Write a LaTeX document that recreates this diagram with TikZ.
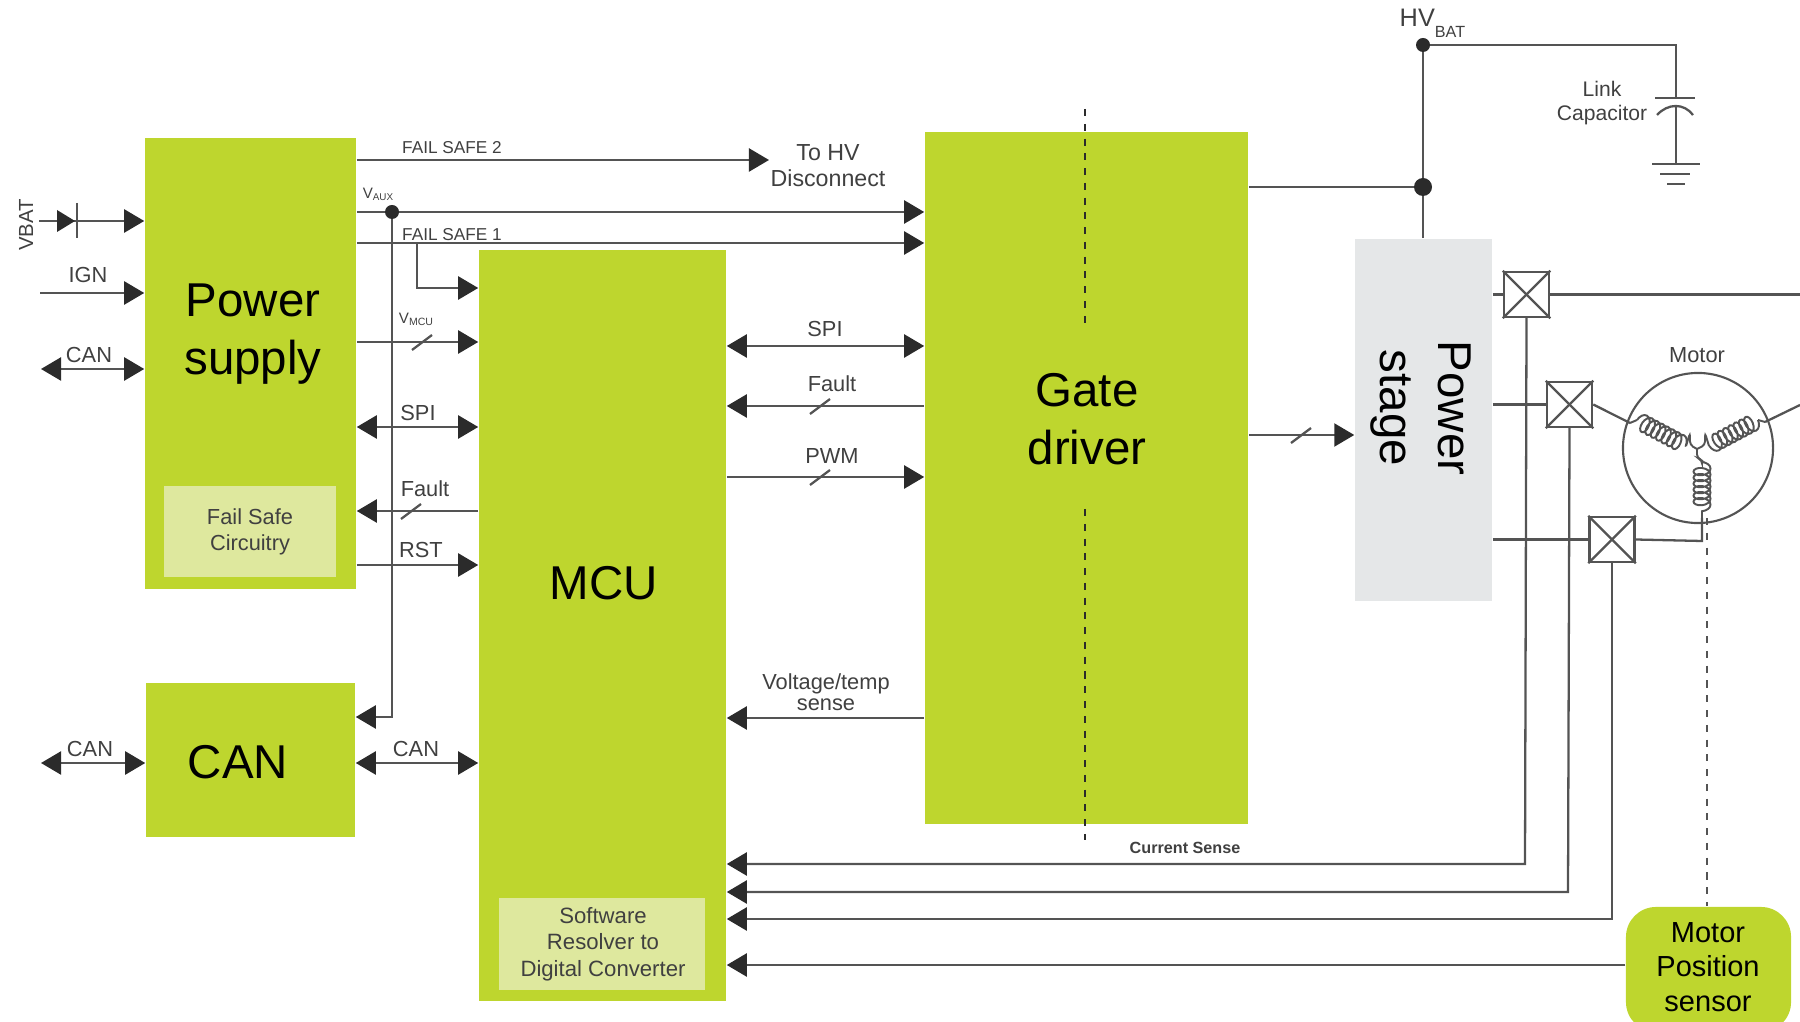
\documentclass[tikz,border=0pt]{standalone}
\usepackage{fontspec}
\setmainfont{Liberation Sans}
\definecolor{blockgreen}{rgb}{0.745, 0.84, 0.18}
\definecolor{palegreen}{rgb}{0.87, 0.91, 0.62}
\definecolor{stagegrey}{rgb}{0.90, 0.906, 0.91}
\definecolor{wiregrey}{rgb}{0.33, 0.33, 0.33}
\definecolor{tipgrey}{rgb}{0.17, 0.17, 0.17}
\definecolor{labelgrey}{rgb}{0.25, 0.25, 0.25}
\usetikzlibrary{arrows.meta}
\usetikzlibrary{decorations.pathmorphing}
\tikzset{
  >={Triangle[length=2mm,width=2.3mm,color=tipgrey]},
  block/.style={fill=blockgreen, inner sep=0pt},
  subblock/.style={fill=palegreen, inner sep=0pt},
  wire/.style={draw=wiregrey, line width=0.65pt},
  blocktext/.style={align=center, font=\fontsize{13.5}{16.5}\selectfont},
  sidetext/.style={align=center, text=labelgrey, font=\fontsize{6.2}{7.6}\selectfont},
  labeltext/.style={align=center, text=labelgrey, inner sep=0pt, font=\fontsize{6.2}{7.6}\selectfont},
  smalltext/.style={text=labelgrey, inner sep=0pt, font=\fontsize{4.9}{6}\selectfont},
  switchbox/.style={draw=wiregrey, fill=white, line width=0.7pt, minimum size=4.5mm, inner sep=0pt},
  coilwire/.style={draw=wiregrey, line width=0.55pt, decorate,
    decoration={coil, aspect=0.6, segment length=0.6mm, amplitude=0.85mm}},
  dotted line/.style={line width=0.8pt, dash pattern=on 2pt off 2.2pt},
}
\begin{document}
\begin{tikzpicture}[x=0.01cm, y=-0.01cm]
  \useasboundingbox (0,0) rectangle (1800,1022);

  % Blocks
  \node[block, minimum width=2.11cm, minimum height=4.51cm] (psu) at (250.5,363.5) {};
  \node[subblock, minimum width=1.72cm, minimum height=0.91cm] (failsafe) at (250,531.5) {};
  \node[block, minimum width=2.09cm, minimum height=1.54cm] (can) at (250.5,760) {};
  \node[block, minimum width=2.47cm, minimum height=7.51cm] (mcu) at (602.5,625.5) {};
  \node[subblock, minimum width=2.06cm, minimum height=0.92cm] (resolver) at (602,944) {};
  \node[block, minimum width=3.23cm, minimum height=6.92cm] (gate) at (1086.5,478) {};
  \node[fill=stagegrey, inner sep=0pt, minimum width=1.37cm, minimum height=3.62cm] (stage) at (1423.5,420) {};
  \node[block, rounded corners=3mm, minimum width=1.65cm, minimum height=1.25cm] (sensor) at (1708.5,969.5) {};

  % Block texts
  \node[blocktext] (psutext) at (253,334) {Power\\supply};
  \node[blocktext] (cantext) at (238,762) {CAN};
  \node[blocktext] (mcutext) at (604,583) {MCU};
  \node[blocktext] (gatetext) at (1087,419) {Gate\\driver};
  \node[blocktext, rotate=-90] (stagetext) at (1421,408) {Power\\stage};
  \node[sidetext] (failsafetext) at (250,532) {Fail Safe\\Circuitry};
  \node[sidetext, font=\fontsize{6.3}{7.5}\selectfont] (resolvertext) at (603,944) {Software\\Resolver to\\Digital Converter};
  \node[align=center, font=\fontsize{8.25}{9.8}\selectfont] (sensortext) at (1708,967) {Motor\\Position\\sensor};

  % Coordinates
  \coordinate (vbat) at (39,221);
  \coordinate (ign) at (40,293);
  \coordinate (canin) at (41,369);
  \coordinate (canbus) at (41,763);
  \coordinate (failtwo) at (769,160);
  \coordinate (vaux) at (392,212);
  \coordinate (vauxend) at (392,717);
  \coordinate (failone) at (417,243);
  \coordinate (failbend) at (417,288);
  \coordinate (vmcu) at (422,342);
  \coordinate (spilow) at (418,427);
  \coordinate (faultlow) at (411,511);
  \coordinate (rst) at (421,565);
  \coordinate (canlow) at (416,763);
  \coordinate (spihigh) at (825,346);
  \coordinate (faulthigh) at (820,406);
  \coordinate (pwm) at (820,477);
  \coordinate (sense) at (826,718);
  \coordinate (gatelink) at (1301,435);
  \coordinate (hvtap) at (1423,187);
  \coordinate (hvbat) at (1423,45);
  \coordinate (capin) at (1676,45);
  \coordinate (capplate) at (1676,98);
  \coordinate (capcurve) at (1676,106);
  \coordinate (capgnd) at (1676,164);
  \coordinate (senseone) at (1525,864);
  \coordinate (sensetwo) at (1568,892);
  \coordinate (sensethree) at (1612,919);
  \coordinate (position) at (1000,965);
  \coordinate (motorbend) at (1702,541);
  \coordinate (motorin) at (1702,518);
  \coordinate (legleft) at (1630,423);
  \coordinate (legright) at (1765,422);
  \coordinate (legend) at (1800,405);
  \coordinate (swoneend) at (1800,294.5);
  \coordinate (star) at (1697,449);
  \coordinate (gatetop) at (1085,109);
  \coordinate (gatemid) at (1085,327);
  \coordinate (gatelow) at (1085,509);
  \coordinate (gateend) at (1085,840);
  \coordinate (shaft) at (1707,518);

  % Switches and motor
  \node[switchbox] (swone) at (1526.5,294.5) {};
  \node[switchbox] (swtwo) at (1569.5,404.5) {};
  \node[switchbox] (swthree) at (1612,539.5) {};
  \node[circle, draw=wiregrey, line width=0.6pt, minimum size=1.5cm, inner sep=0pt] (motor) at (1698,448) {};

  % Drawing
  \draw[wire, ->] (vbat) -- (psu.west |- vbat);
  \fill[tipgrey] (57,210) -- (75,221) -- (57,232) -- cycle;
  \draw[wire] (77,203) -- (77,238);
  \draw[wire, ->] (ign) -- (psu.west |- ign);
  \draw[wire, <->] (canin) -- (psu.west |- canin);
  \draw[wire, <->] (canbus) -- (can.west |- canbus);
  \draw[wire, ->] (psu.east |- failtwo) -- (failtwo);
  \draw[wire, ->] (psu.east |- vaux) -- (gate.west |- vaux);
  \draw[wire, ->] (psu.east |- failone) -- (gate.west |- failone);
  \draw[wire, ->] (failone) -- (failbend) -- (mcu.west |- failbend);
  \draw[wire, ->] (vaux) -- (vauxend) -- (can.east |- vauxend);
  \fill[tipgrey] (vaux) circle (7);
  \draw[wire, ->] (psu.east |- vmcu) -- (mcu.west |- vmcu);
  \draw[wire, <->] (psu.east |- spilow) -- (mcu.west |- spilow);
  \draw[wire, ->] (mcu.west |- faultlow) -- (psu.east |- faultlow);
  \draw[wire, ->] (psu.east |- rst) -- (mcu.west |- rst);
  \draw[wire, <->] (can.east |- canlow) -- (mcu.west |- canlow);
  \draw[wire, <->] (mcu.east |- spihigh) -- (gate.west |- spihigh);
  \draw[wire, ->] (gate.west |- faulthigh) -- (mcu.east |- faulthigh);
  \draw[wire, ->] (mcu.east |- pwm) -- (gate.west |- pwm);
  \draw[wire, ->] (gate.west |- sense) -- (mcu.east |- sense);
  \draw[wire, ->] (gate.east |- gatelink) -- (stage.west |- gatelink);

  \draw[wire] (vmcu) ++(-10,8) -- ++(20,-15);
  \draw[wire] (faultlow) ++(-10,8) -- ++(20,-15);
  \draw[wire] (faulthigh) ++(-10,8) -- ++(20,-15);
  \draw[wire] (pwm) ++(-10,8) -- ++(20,-15);
  \draw[wire] (gatelink) ++(-10,8) -- ++(20,-15);

  \draw[wire] (gate.east |- hvtap) -- (hvtap);
  \draw[wire] (stage.north -| hvtap) -- (hvbat) -- (capin) -- (capplate);
  \fill[tipgrey] (hvtap) circle (9);
  \fill[tipgrey] (hvbat) circle (7);
  \draw[wire] (1655,98) -- (1695,98);
  \draw[wire] (1657,115) .. controls (1668,103) and (1684,103) .. (1693,115);
  \draw[wire] (capcurve) -- (capgnd);
  \draw[wire] (1652,164) -- (1700,164);
  \draw[wire] (1660,174) -- (1690,174);
  \draw[wire] (1667,184) -- (1685,184);

  \draw[wire] (stage.east |- swone) -- (swone.west);
  \draw[wire] (swone.east) -- (swoneend);
  \draw[wire] (stage.east |- swtwo) -- (swtwo.west);
  \draw[wire] (stage.east |- swthree) -- (swthree.west);
  \draw[wire] (swone.north west) -- (swone.south east);
  \draw[wire] (swone.north east) -- (swone.south west);
  \draw[wire] (swtwo.north west) -- (swtwo.south east);
  \draw[wire] (swtwo.north east) -- (swtwo.south west);
  \draw[wire] (swthree.north west) -- (swthree.south east);
  \draw[wire] (swthree.north east) -- (swthree.south west);

  \draw[wire, ->] (swone.south) -- (senseone) -- (mcu.east |- senseone);
  \draw[wire, ->] (swtwo.south) -- (sensetwo) -- (mcu.east |- sensetwo);
  \draw[wire, ->] (swthree.south) -- (sensethree) -- (mcu.east |- sensethree);
  \draw[wire, ->] (sensor.west |- position) -- (mcu.east |- position);

  \draw[wire] (swtwo.east) -- (legleft);
  \draw[wire] (legright) -- (legend);
  \draw[wire] (swthree.east) -- (motorbend) -- (motorin);
  \draw[wire, line width=0.55pt] (legleft) -- (1637,420);
  \draw[coilwire] (1637,420) -- (1686,446);
  \draw[wire, line width=0.55pt, rounded corners=1pt] (1686,446) -- (1690,433) -- (1690,445) -- (star);
  \draw[wire, line width=0.55pt] (legright) -- (1758,420);
  \draw[coilwire] (1758,420) -- (1709,446);
  \draw[wire, line width=0.55pt, rounded corners=1pt] (1709,446) -- (1705,433) -- (1705,445) -- (star);
  \draw[wire, line width=0.55pt, rounded corners=1pt] (star) -- (1697,458) -- (1702,460) -- (1702,462);
  \draw[coilwire] (1702,462) -- (1702,514);
  \draw[wire, line width=0.55pt] (1702,514) -- (motorin);

  \draw[tipgrey, dotted line] (gatetop) -- (gatemid);
  \draw[tipgrey, dotted line] (gatelow) -- (gateend);
  \draw[wiregrey, dotted line] (shaft) -- (sensor.north -| shaft);

  % Labels
  \node[sidetext, inner sep=0pt, rotate=90, font=\fontsize{5.8}{7}\selectfont] (vbattext) at (26,225) {VBAT};
  \node[labeltext] (igntext) at (88,275) {IGN};
  \node[labeltext] (canintext) at (89,355) {CAN};
  \node[labeltext] (canbustext) at (90,749) {CAN};
  \node[smalltext] (failtwotext) at (452,148) {FAIL SAFE 2};
  \node[smalltext] (failonetext) at (452,235) {FAIL SAFE 1};
  \node[labeltext, font=\fontsize{6.6}{7.4}\selectfont] (hvtext) at (828,166) {To HV\\Disconnect};
  \node[smalltext, font=\fontsize{4.3}{5}\selectfont] (vauxtext) at (378,194) {V\raisebox{-0.6pt}{\fontsize{2.8}{3}\selectfont AUX}};
  \node[smalltext, font=\fontsize{4.3}{5}\selectfont] (vmcutext) at (416,319) {V\raisebox{-0.6pt}{\fontsize{3}{3}\selectfont MCU}};
  \node[labeltext] (spilowtext) at (418,413) {SPI};
  \node[labeltext] (faultlowtext) at (425,489) {Fault};
  \node[labeltext] (rsttext) at (421,550) {RST};
  \node[labeltext] (canlowtext) at (416,749) {CAN};
  \node[labeltext] (spihightext) at (825,329) {SPI};
  \node[labeltext] (faulthightext) at (832,384) {Fault};
  \node[labeltext] (pwmtext) at (832,456) {PWM};
  \node[labeltext, font=\fontsize{6.2}{5.9}\selectfont] (sensetext) at (826,692) {Voltage/temp\\sense};
  \node[smalltext, font=\bfseries\fontsize{4.6}{6}\selectfont] (currenttext) at (1185,848) {Current Sense};
  \node[labeltext] (motortext) at (1697,355) {Motor};
  \node[labeltext, font=\fontsize{6}{7}\selectfont] (captext) at (1602,103) {Link\\Capacitor};
  \node[labeltext, anchor=west, font=\fontsize{7.2}{8}\selectfont] (hvbattext) at (1399,23) {HV\raisebox{-3.2pt}{\fontsize{4.6}{5}\selectfont BAT}};
\end{tikzpicture}
\end{document}
